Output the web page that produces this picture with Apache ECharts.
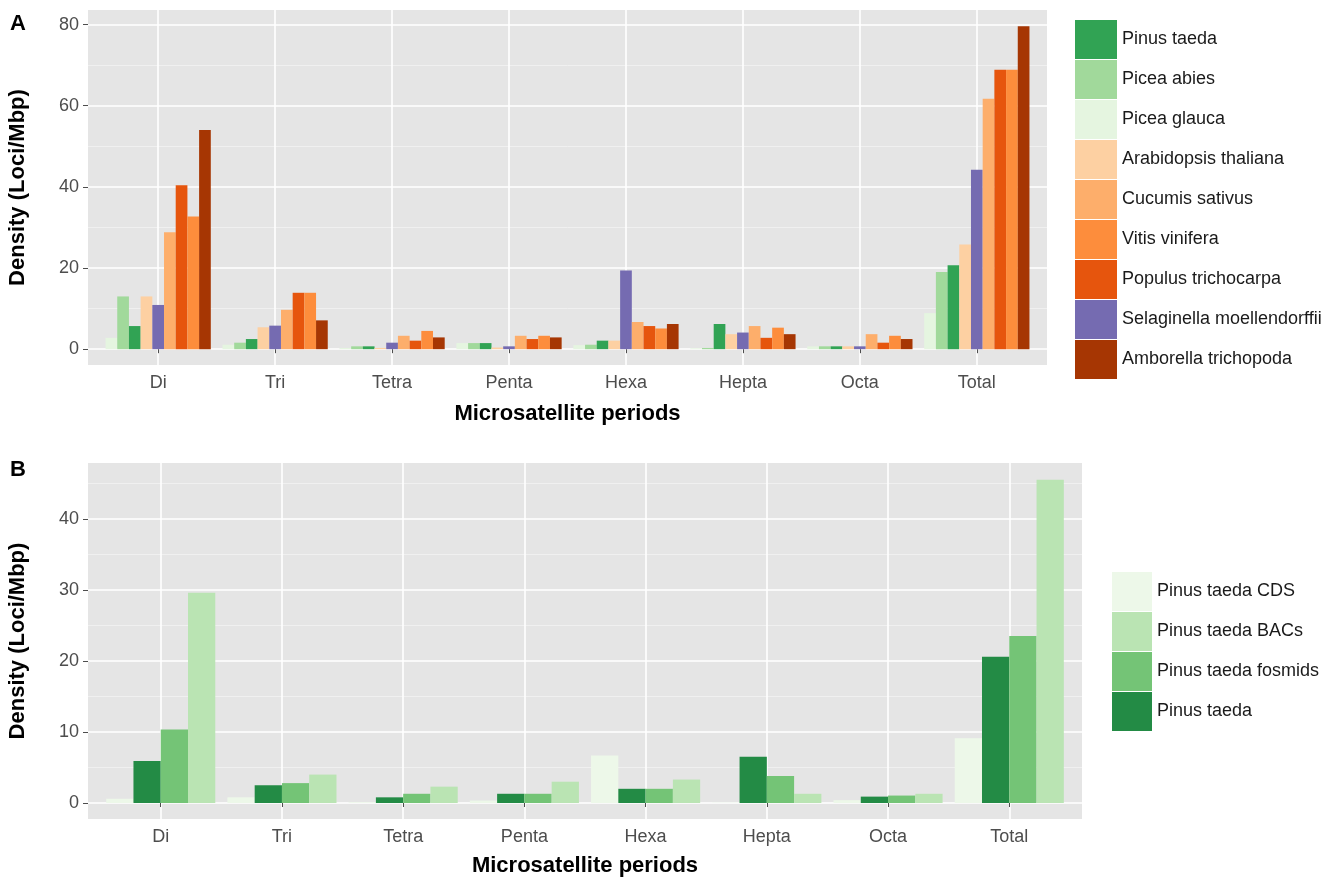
<!DOCTYPE html>
<html>
<head>
<meta charset="utf-8">
<script src="https://cdn.jsdelivr.net/npm/echarts@6/dist/echarts.min.js"></script>
<style>
html,body{margin:0;padding:0;background:#fff;}
#chart{width:1342px;height:883px;}
</style>
</head>
<body>
<div id="chart"></div>
<script>
// ---------- data ----------
const periods = ["Di", "Tri", "Tetra", "Penta", "Hexa", "Hepta", "Octa", "Total"];

// Panel A (Density, Loci/Mbp)
const piceaGlauca  = [2.8, 1.1, 0.3, 1.5, 1.0, 0.2, 0.7, 8.9];
const piceaAbies   = [13.0, 1.6, 0.7, 1.5, 1.1, 0.3, 0.7, 19.0];
const pinusTaedaA  = [5.7, 2.5, 0.7, 1.5, 2.1, 6.2, 0.7, 20.7];
const arabidopsis  = [13.0, 5.4, 0.3, 0.4, 2.1, 3.7, 0.7, 25.8];
const selaginella  = [10.9, 5.8, 1.6, 0.7, 19.4, 4.1, 0.7, 44.2];
const cucumis      = [28.8, 9.7, 3.3, 3.3, 6.7, 5.7, 3.7, 61.7];
const populus      = [40.4, 13.9, 2.1, 2.5, 5.7, 2.8, 1.6, 68.9];
const vitis        = [32.7, 13.9, 4.5, 3.3, 5.1, 5.3, 3.3, 68.9];
const amborella    = [54.0, 7.1, 2.9, 2.9, 6.2, 3.7, 2.5, 79.6];

// Panel B
const pinusCDS     = [0.6, 0.8, 0.1, 0.35, 6.7, 0.05, 0.4, 9.1];
const pinusTaedaB  = [5.9, 2.5, 0.8, 1.3, 2.0, 6.5, 0.9, 20.6];
const pinusFosmids = [10.35, 2.8, 1.3, 1.3, 2.0, 3.8, 1.05, 23.5];
const pinusBACs    = [29.6, 4.0, 2.3, 3.0, 3.3, 1.3, 1.3, 45.5];

const yTicksA = [0, 20, 40, 60, 80];
const yTicksB = [0, 10, 20, 30, 40];

// ---------- styling ----------
const FONT = '"Liberation Sans", Arial, Helvetica, sans-serif';
const GREY_BG = '#e5e5e5';
const TICK_COL = '#4d4d4d';

const seriesA = [
  {name: 'Picea glauca', data: piceaGlauca, color: '#e5f5e0'},
  {name: 'Picea abies', data: piceaAbies, color: '#a1d99b'},
  {name: 'Pinus taeda', data: pinusTaedaA, color: '#31a354'},
  {name: 'Arabidopsis thaliana', data: arabidopsis, color: '#fdd0a2'},
  {name: 'Selaginella moellendorffii', data: selaginella, color: '#756bb1'},
  {name: 'Cucumis sativus', data: cucumis, color: '#fdae6b'},
  {name: 'Populus trichocarpa', data: populus, color: '#e6550d'},
  {name: 'Vitis vinifera', data: vitis, color: '#fd8d3c'},
  {name: 'Amborella trichopoda', data: amborella, color: '#a63603'}
];
const legendOrderA = ['Pinus taeda', 'Picea abies', 'Picea glauca', 'Arabidopsis thaliana',
  'Cucumis sativus', 'Vitis vinifera', 'Populus trichocarpa', 'Selaginella moellendorffii', 'Amborella trichopoda'];

const seriesB = [
  {name: 'Pinus taeda CDS', data: pinusCDS, color: '#edf8e9'},
  {name: 'Pinus taeda', data: pinusTaedaB, color: '#238b45'},
  {name: 'Pinus taeda fosmids', data: pinusFosmids, color: '#74c476'},
  {name: 'Pinus taeda BACs', data: pinusBACs, color: '#bae4b3'}
];
const legendOrderB = ['Pinus taeda CDS', 'Pinus taeda BACs', 'Pinus taeda fosmids', 'Pinus taeda'];

// ---------- layout (ggplot-like panels) ----------
const A = {left: 88, top: 10, width: 959, height: 355, min: -3.9, max: 83.6};
const B = {left: 88, top: 463, width: 994, height: 356, min: -2.25, max: 47.85};
function unit(p) { return p.width / (periods.length + 0.2); }

function panelGrids(p) {
  const u = unit(p);
  return [
    {left: p.left, top: p.top, width: p.width, height: p.height, show: true,
     backgroundColor: GREY_BG, borderWidth: 0},
    {left: p.left + 0.1 * u, top: p.top, width: p.width - 0.2 * u, height: p.height},
    {left: p.left + 0.6 * u, top: p.top, width: (periods.length - 1) * u, height: p.height}
  ];
}

function panelAxes(p, gi, ticks) {
  const xAxes = [
    {gridIndex: gi, type: 'value', show: false},
    {gridIndex: gi + 1, type: 'category', data: periods, show: false},
    {gridIndex: gi + 2, type: 'category', data: periods, boundaryGap: false,
     axisLine: {show: false},
     axisTick: {show: true, length: 4, lineStyle: {color: TICK_COL, width: 1}},
     axisLabel: {color: TICK_COL, fontSize: 18, fontFamily: FONT, margin: 9},
     splitLine: {show: true, lineStyle: {color: '#ffffff', width: 1.6}}}
  ];
  const yAxes = [
    {gridIndex: gi, type: 'value', min: p.min, max: p.max, splitNumber: 5,
     axisLine: {show: false},
     axisTick: {show: true, length: 5, lineStyle: {color: TICK_COL, width: 1}, customValues: ticks},
     axisLabel: {color: TICK_COL, fontSize: 18, fontFamily: FONT, margin: 9, customValues: ticks},
     splitLine: {show: true, lineStyle: {color: '#ffffff', width: 1.6}},
     minorTick: {show: false, splitNumber: 2},
     minorSplitLine: {show: true, lineStyle: {color: '#f2f2f2', width: 0.8}}},
    {gridIndex: gi + 1, type: 'value', min: p.min, max: p.max, show: false},
    {gridIndex: gi + 2, type: 'value', min: p.min, max: p.max, show: false}
  ];
  return {xAxes, yAxes};
}

const axA = panelAxes(A, 0, yTicksA);
const axB = panelAxes(B, 3, yTicksB);

function makeSeries(list, axisIdx) {
  return list.map(s => ({
    type: 'bar', name: s.name, data: s.data,
    xAxisIndex: axisIdx, yAxisIndex: axisIdx,
    barGap: '0%', barCategoryGap: '10%',
    itemStyle: {color: s.color},
    emphasis: {disabled: true}, animation: false
  }));
}

const colorOf = {};
seriesA.forEach(s => colorOf['A|' + s.name] = s.color);
seriesB.forEach(s => colorOf['B|' + s.name] = s.color);

const legendCommon = {
  orient: 'vertical', icon: 'rect', itemWidth: 42, itemHeight: 39, itemGap: 1,
  padding: 0, selectedMode: false,
  textStyle: {fontSize: 18, fontFamily: FONT, color: '#1a1a1a'}
};

const option = {
  animation: false,
  backgroundColor: '#ffffff',
  grid: [...panelGrids(A), ...panelGrids(B)],
  xAxis: [...axA.xAxes, ...axB.xAxes],
  yAxis: [...axA.yAxes, ...axB.yAxes],
  legend: [
    Object.assign({}, legendCommon, {left: 1075, top: 20,
      data: legendOrderA.map(n => ({name: n, itemStyle: {color: colorOf['A|' + n]}}))}),
    Object.assign({}, legendCommon, {left: 1112, top: 572, itemWidth: 40,
      data: legendOrderB.map(n => ({name: n, itemStyle: {color: colorOf['B|' + n]}}))})
  ],
  series: [...makeSeries(seriesA, 1), ...makeSeries(seriesB, 4)],
  graphic: [
    {type: 'text', x: 10, y: 24, style: {text: 'A', fontSize: 22, fontWeight: 'bold', fontFamily: FONT, fill: '#000',
      textAlign: 'left', align: 'left', textVerticalAlign: 'middle', verticalAlign: 'middle'}},
    {type: 'text', x: 10, y: 470, style: {text: 'B', fontSize: 22, fontWeight: 'bold', fontFamily: FONT, fill: '#000',
      textAlign: 'left', align: 'left', textVerticalAlign: 'middle', verticalAlign: 'middle'}},
    {type: 'text', x: A.left + A.width / 2, y: 414, style: {text: 'Microsatellite periods', fontSize: 22, fontWeight: 'bold',
      fontFamily: FONT, fill: '#000', textAlign: 'center', align: 'center', textVerticalAlign: 'middle', verticalAlign: 'middle'}},
    {type: 'text', x: B.left + B.width / 2, y: 866, style: {text: 'Microsatellite periods', fontSize: 22, fontWeight: 'bold',
      fontFamily: FONT, fill: '#000', textAlign: 'center', align: 'center', textVerticalAlign: 'middle', verticalAlign: 'middle'}},
    {type: 'text', x: 18, y: A.top + A.height / 2, rotation: Math.PI / 2, style: {text: 'Density (Loci/Mbp)', fontSize: 22,
      fontWeight: 'bold', fontFamily: FONT, fill: '#000', textAlign: 'center', align: 'center', textVerticalAlign: 'middle', verticalAlign: 'middle'}},
    {type: 'text', x: 18, y: B.top + B.height / 2, rotation: Math.PI / 2, style: {text: 'Density (Loci/Mbp)', fontSize: 22,
      fontWeight: 'bold', fontFamily: FONT, fill: '#000', textAlign: 'center', align: 'center', textVerticalAlign: 'middle', verticalAlign: 'middle'}}
  ]
};

const chart = echarts.init(document.getElementById('chart'), null, {renderer: 'canvas'});
chart.setOption(option);
</script>
</body>
</html>
